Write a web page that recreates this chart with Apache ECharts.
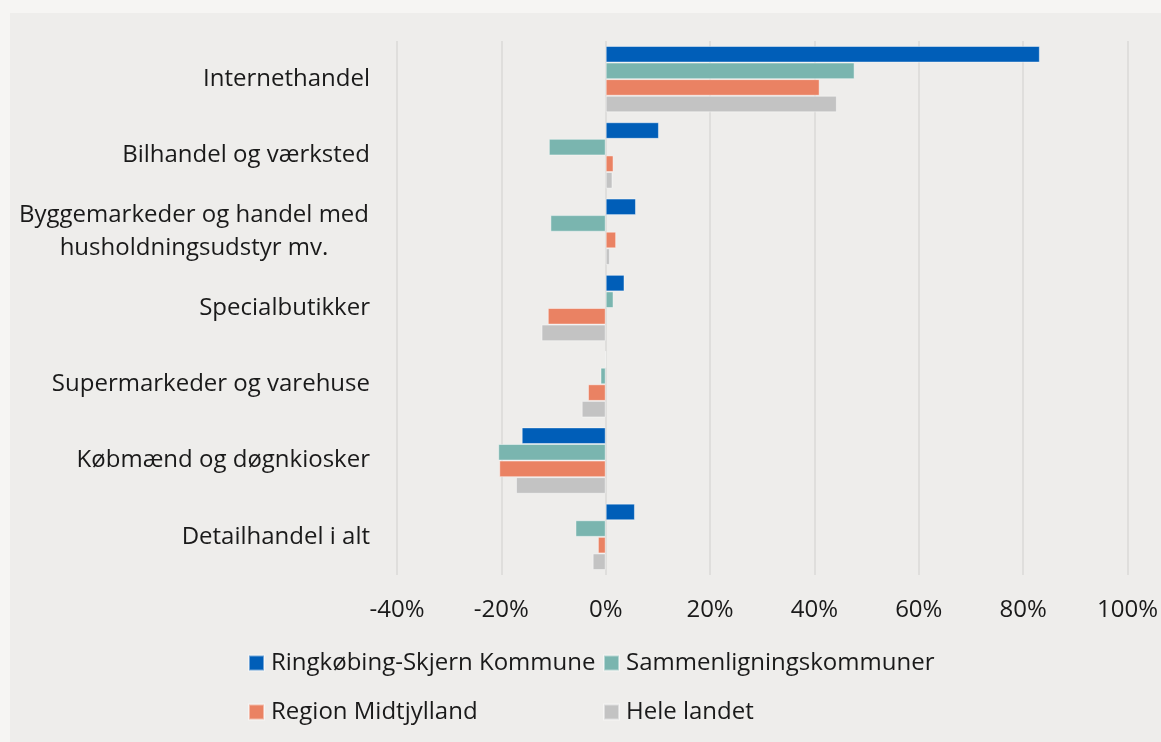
<!DOCTYPE html>
<html><head><meta charset="utf-8">
<script src="https://cdn.jsdelivr.net/npm/echarts@6/dist/echarts.min.js"></script>
<style>html,body{margin:0;padding:0;background:#F6F5F3;}#c{width:1161px;height:742px;}</style>
</head><body><div id="c"></div>
<script>
const categories = ['Internethandel','Bilhandel og værksted','Byggemarkeder og handel med\nhusholdningsudstyr mv.','Specialbutikker','Supermarkeder og varehuse','Købmænd og døgnkiosker','Detailhandel i alt'];
const seriesNames = ['Ringkøbing-Skjern Kommune','Sammenligningskommuner','Region Midtjylland','Hele landet'];
const ringkobing = [83.2, 10.2, 5.8, 3.6, 0.0, -16.1, 5.6];
const sammenligning = [47.7, -10.9, -10.6, 1.5, -1.0, -20.6, -5.8];
const region = [41.0, 1.5, 2.0, -11.1, -3.4, -20.4, -1.5];
const heleLandet = [44.3, 1.3, 0.8, -12.3, -4.6, -17.2, -2.5];
const xTicks = [-40, -20, 0, 20, 40, 60, 80, 100];

const colors = ['#005EB8', '#7AB5AF', '#EA8263', '#C3C3C3'];
const values = [ringkobing, sammenligning, region, heleLandet];
const FONT = '"Open Sans", "Noto Sans", sans-serif';
const chart = echarts.init(document.getElementById('c'), null, {renderer: 'canvas'});

const legendPos = [[248, 648], [603, 648], [248, 697], [603, 697]];
chart.setOption({
  animation: false,
  backgroundColor: '#F6F5F3',
  graphic: [{type: 'rect', z: -10, shape: {x: 10, y: 13, width: 1151, height: 729}, style: {fill: '#EEEDEB'}}],
  grid: {left: 397, right: 29, top: 41, bottom: 167},
  legend: seriesNames.map((n, i) => ({
    data: [n], left: legendPos[i][0], top: legendPos[i][1], padding: 0, icon: 'rect', itemWidth: 15, itemHeight: 15, itemGap: 0,
    textStyle: {fontFamily: FONT, fontSize: 24, color: '#1a1a1a', lineHeight: 30, padding: [0, 0, 0, 2]}
  })),
  xAxis: {
    type: 'value', min: xTicks[0], max: xTicks[xTicks.length - 1], interval: 20,
    axisLine: {show: false}, axisTick: {show: false},
    splitLine: {lineStyle: {color: '#DFDEDC', width: 2}},
    axisLabel: {formatter: v => v + '%', fontFamily: FONT, fontSize: 24, color: '#1a1a1a', margin: 23}
  },
  yAxis: {
    type: 'category', data: categories, inverse: true,
    axisLine: {show: false, onZero: false}, axisTick: {show: false},
    axisLabel: {
      fontFamily: FONT, fontSize: 24, color: '#1a1a1a', margin: 27,
      formatter: v => v.indexOf('\n') >= 0 ? v.split('\n').map(s => '{c|' + s + '}').join('\n') : v,
      rich: {c: {fontFamily: FONT, fontSize: 24, color: '#1a1a1a', width: 352, align: 'center', lineHeight: 33}}
    }
  },
  series: values.map((d, i) => ({
    name: seriesNames[i], type: 'bar', data: d, barGap: '0%', barCategoryGap: '13%',
    itemStyle: {color: colors[i], borderColor: 'rgba(255,255,255,0.45)', borderWidth: 1}
  }))
});
</script></body></html>
